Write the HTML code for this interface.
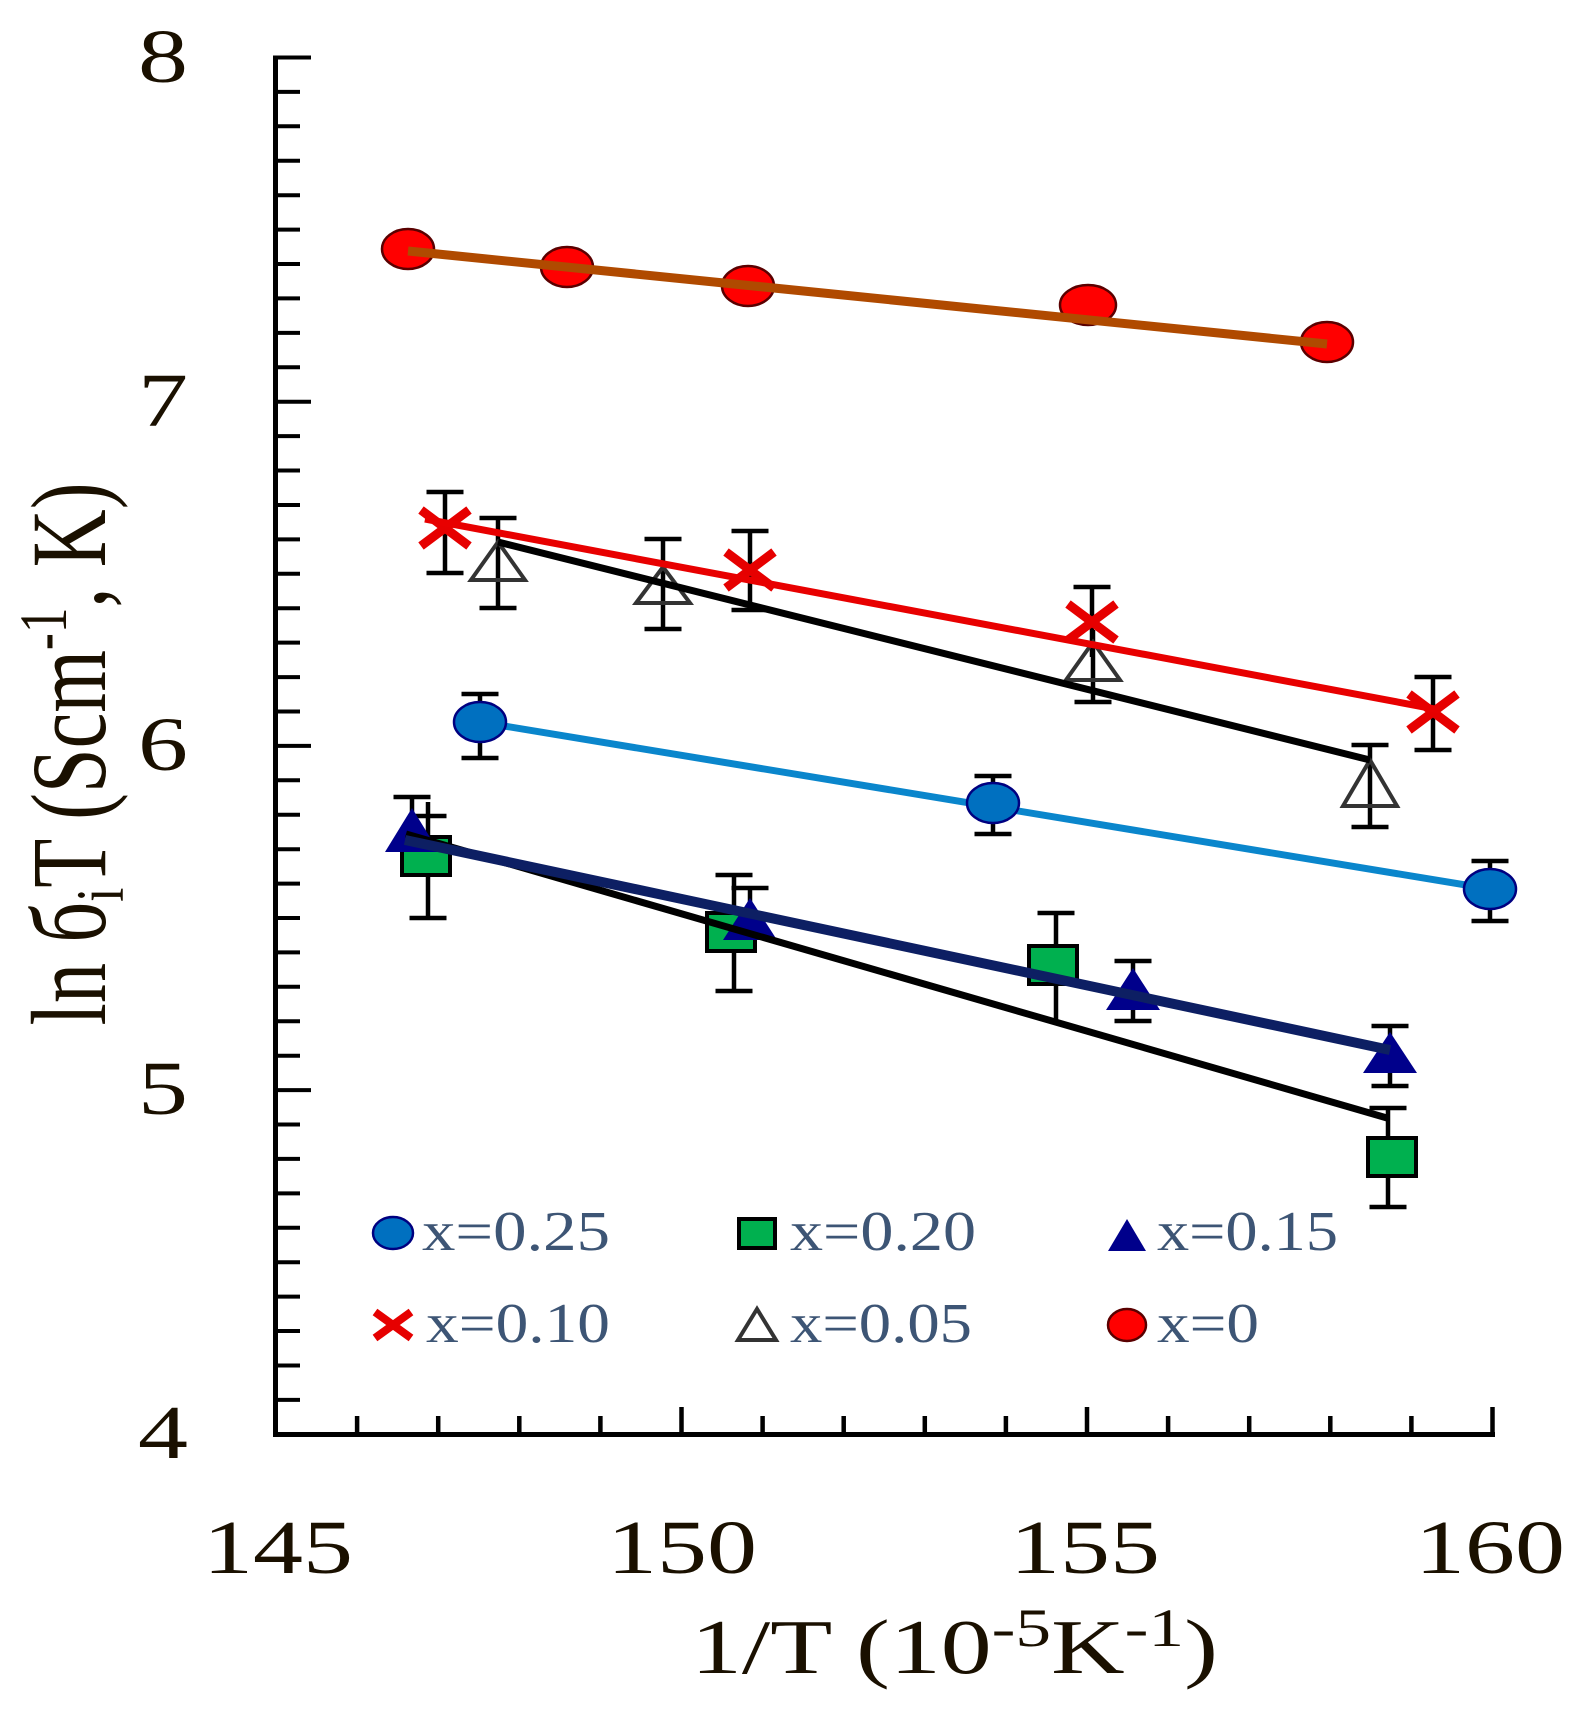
<!DOCTYPE html>
<html><head><meta charset="utf-8"><style>
html,body{margin:0;padding:0;background:#fff;}
svg{display:block;}
text{font-family:"Liberation Serif","DejaVu Serif",serif;}
</style></head><body>
<svg width="1595" height="1721" viewBox="0 0 1595 1721" xmlns="http://www.w3.org/2000/svg">
<rect width="1595" height="1721" fill="#fff"/>

<!-- axes -->
<rect x="273" y="55.5" width="5" height="1381.5" fill="#000"/>
<rect x="273" y="1432" width="1222" height="5" fill="#000"/>

<!-- y ticks -->
<path stroke="#000" stroke-width="4" fill="none" d="
M278 57.5H311 M278 401.7H311 M278 745.9H311 M278 1090.1H311
M278 91.9H300 M278 126.3H300 M278 160.8H300 M278 195.2H300 M278 229.6H300 M278 264H300 M278 298.4H300 M278 332.9H300 M278 367.3H300
M278 436.1H300 M278 470.5H300 M278 505H300 M278 539.4H300 M278 573.8H300 M278 608.2H300 M278 642.6H300 M278 677.1H300 M278 711.5H300
M278 780.3H300 M278 814.7H300 M278 849.2H300 M278 883.6H300 M278 918H300 M278 952.4H300 M278 986.8H300 M278 1021.3H300 M278 1055.7H300
M278 1124.5H300 M278 1158.9H300 M278 1193.4H300 M278 1227.8H300 M278 1262.2H300 M278 1296.6H300 M278 1331H300 M278 1365.5H300 M278 1399.9H300"/>

<!-- x ticks -->
<path stroke="#000" stroke-width="4.5" fill="none" d="
M357.1 1432V1416 M438.2 1432V1416 M519.3 1432V1416 M600.4 1432V1416
M681.5 1432V1407
M762.6 1432V1416 M843.7 1432V1416 M924.8 1432V1416 M1005.9 1432V1416
M1087 1432V1407
M1168.1 1432V1416 M1249.2 1432V1416 M1330.3 1432V1416 M1411.4 1432V1416
M1492.5 1437V1407"/>

<!-- y tick labels -->
<g fill="#1a1000" font-size="76" text-anchor="middle">
<text x="163" y="82" textLength="50" lengthAdjust="spacingAndGlyphs">8</text>
<text x="163" y="426" textLength="50" lengthAdjust="spacingAndGlyphs">7</text>
<text x="163" y="770" textLength="50" lengthAdjust="spacingAndGlyphs">6</text>
<text x="163" y="1114" textLength="50" lengthAdjust="spacingAndGlyphs">5</text>
<text x="163" y="1458" textLength="50" lengthAdjust="spacingAndGlyphs">4</text>
</g>

<!-- x tick labels -->
<g fill="#1a1000" font-size="76" text-anchor="middle">
<text x="278" y="1573" textLength="150" lengthAdjust="spacingAndGlyphs">145</text>
<text x="682" y="1573" textLength="150" lengthAdjust="spacingAndGlyphs">150</text>
<text x="1085" y="1573" textLength="150" lengthAdjust="spacingAndGlyphs">155</text>
<text x="1490" y="1573" textLength="150" lengthAdjust="spacingAndGlyphs">160</text>
</g>

<!-- x title -->
<text x="691" y="1673" font-size="77" fill="#1a1000" textLength="527" lengthAdjust="spacingAndGlyphs">1/T (10<tspan font-size="54" dy="-27">-5</tspan><tspan dy="27">K</tspan><tspan font-size="54" dy="-27">-1</tspan><tspan dy="27">)</tspan></text>

<!-- y title -->
<g transform="translate(105,754) scale(1.3,1) rotate(-90)">
<text x="0" y="0" font-size="82" fill="#1a1000" text-anchor="middle" textLength="543" lengthAdjust="spacingAndGlyphs">ln б<tspan font-size="52" dy="14">i</tspan><tspan dy="-14">T (Scm</tspan><tspan font-size="52" dy="-30">-1</tspan><tspan dy="30">, K)</tspan></text>
</g>

<!-- error bars -->
<g stroke="#000" stroke-width="4.5" fill="none">
<!-- x=0.10 -->
<path d="M445 492V573 M426.5 492H463.5 M426.5 573H463.5"/>
<path d="M750 531V610 M731.5 531H768.5 M731.5 610H768.5"/>
<path d="M1092 587V657 M1073.5 587H1110.5"/>
<path d="M1433 677V750 M1414.5 677H1451.5 M1414.5 750H1451.5"/>
<!-- x=0.05 -->
<path d="M498 518V608 M479.5 518H516.5 M479.5 608H516.5"/>
<path d="M663 539V629 M644.5 539H681.5 M644.5 629H681.5"/>
<path d="M1093 630V702 M1074.5 702H1111.5"/>
<path d="M1370 745V827 M1351.5 745H1388.5 M1351.5 827H1388.5"/>
<!-- x=0.25 -->
<path d="M480 694V758 M461.5 694H498.5 M461.5 758H498.5"/>
<path d="M993 776V834 M974.5 776H1011.5 M974.5 834H1011.5"/>
<path d="M1490 861V921 M1471.5 861H1508.5 M1471.5 921H1508.5"/>
<!-- x=0.20 -->
<path d="M428 802V918 M409.5 816H446.5 M409.5 918H446.5"/>
<path d="M734 875V991 M715.5 875H752.5 M715.5 991H752.5"/>
<path d="M1056 913V1020 M1037.5 913H1074.5"/>
<path d="M1388 1108V1207 M1369.5 1108H1406.5 M1369.5 1207H1406.5"/>
<!-- x=0.15 -->
<path d="M412 797V868 M393.5 797H430.5"/>
<path d="M750 888V950 M731.5 888H768.5"/>
<path d="M1133 961V1021 M1114.5 961H1151.5 M1114.5 1021H1151.5"/>
<path d="M1390 1026V1086 M1371.5 1026H1408.5 M1371.5 1086H1408.5"/>
</g>

<!-- x=0.25 line (under circles) -->
<line x1="480" y1="722" x2="1490" y2="889" stroke="#0a86cc" stroke-width="7"/>

<!-- markers: blue circles -->
<g fill="#0070c0" stroke="#000080" stroke-width="2.5">
<ellipse cx="480" cy="722" rx="26" ry="20"/>
<ellipse cx="993" cy="803" rx="26" ry="20"/>
<ellipse cx="1490" cy="889" rx="26" ry="20"/>
</g>

<!-- green squares -->
<g fill="#00b04f" stroke="#000" stroke-width="4">
<rect x="402" y="837" width="48" height="38"/>
<rect x="707" y="913" width="48" height="38"/>
<rect x="1029" y="946" width="48" height="38"/>
<rect x="1368" y="1138" width="48" height="38"/>
</g>

<!-- navy triangles -->
<g fill="#00008b">
<polygon points="412,808 385,852 439,852"/>
<polygon points="750,898 723,940 777,940"/>
<polygon points="1133,968 1106,1010 1160,1010"/>
<polygon points="1390,1032 1363,1073 1417,1073"/>
</g>

<!-- open triangles -->
<g fill="none" stroke="#333" stroke-width="4">
<polygon points="498,542 471,580 525,580"/>
<polygon points="663,567 636,603 690,603"/>
<polygon points="1093,642 1066,680 1120,680"/>
<polygon points="1370,760 1343,806 1397,806"/>
</g>

<!-- red X -->
<g stroke="#e60000" stroke-width="9">
<path d="M421 510L469 546M469 510L421 546"/>
<path d="M726 552L774 588M774 552L726 588"/>
<path d="M1068 604L1116 640M1116 604L1068 640"/>
<path d="M1409 694L1457 730M1457 694L1409 730"/>
</g>

<!-- red circles -->
<g fill="#ff0000" stroke="#5a0000" stroke-width="2.5">
<ellipse cx="408" cy="249" rx="26" ry="20"/>
<ellipse cx="567" cy="267" rx="26" ry="20"/>
<ellipse cx="748" cy="286" rx="26" ry="20"/>
<ellipse cx="1088" cy="305" rx="28" ry="20"/>
<ellipse cx="1327" cy="342" rx="26" ry="20"/>
</g>

<!-- lines -->
<line x1="408" y1="251" x2="1327" y2="344" stroke="#b04a00" stroke-width="9"/>
<line x1="425" y1="519" x2="1440" y2="710" stroke="#e80000" stroke-width="7"/>
<line x1="498" y1="542" x2="1370" y2="760" stroke="#000" stroke-width="7"/>
<line x1="406" y1="834" x2="1387" y2="1118" stroke="#000" stroke-width="7"/>
<line x1="405" y1="840" x2="1390" y2="1050" stroke="#0d1f63" stroke-width="10"/>

<!-- legend markers -->
<ellipse cx="393" cy="1233" rx="20" ry="16" fill="#0070c0" stroke="#000080" stroke-width="2.5"/>
<rect x="739" y="1219" width="36" height="29" fill="#00b04f" stroke="#000" stroke-width="4"/>
<polygon points="1127,1219 1108,1251 1146,1251" fill="#00008b"/>
<path d="M375 1312L411 1338M411 1312L375 1338" stroke="#e60000" stroke-width="8"/>
<polygon points="757,1309 738,1340 776,1340" fill="none" stroke="#333" stroke-width="4"/>
<ellipse cx="1127" cy="1325" rx="19" ry="16" fill="#ff0000" stroke="#5a0000" stroke-width="2.5"/>

<!-- legend text -->
<g fill="#3d5575" font-size="56">
<text x="422" y="1250" textLength="188" lengthAdjust="spacingAndGlyphs">x=0.25</text>
<text x="790" y="1250" textLength="186" lengthAdjust="spacingAndGlyphs">x=0.20</text>
<text x="1157" y="1250" textLength="181" lengthAdjust="spacingAndGlyphs">x=0.15</text>
<text x="426" y="1342" textLength="184" lengthAdjust="spacingAndGlyphs">x=0.10</text>
<text x="790" y="1342" textLength="182" lengthAdjust="spacingAndGlyphs">x=0.05</text>
<text x="1157" y="1342" textLength="102" lengthAdjust="spacingAndGlyphs">x=0</text>
</g>
</svg>
</body></html>
